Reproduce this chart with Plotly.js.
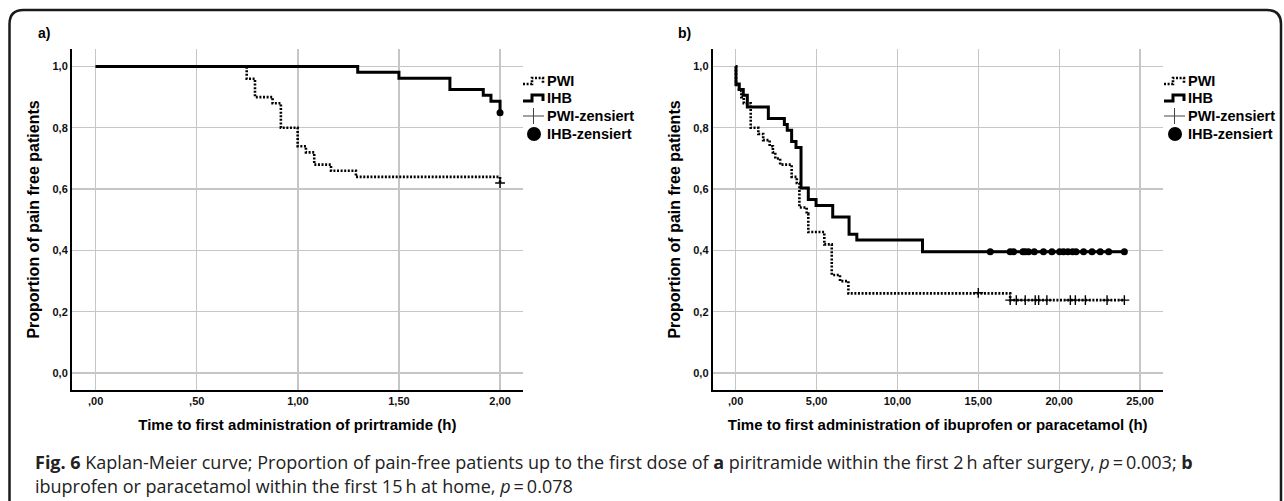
<!DOCTYPE html>
<html>
<head>
<meta charset="utf-8">
<script src="https://cdn.plot.ly/plotly-3.0.1.min.js"></script>
<style>
  html, body { margin: 0; padding: 0; background: #fff; }
  #chart { width: 1284px; height: 501px; }
</style>
</head>
<body>
<div id="chart"></div>
<script>
// ---------- Data ----------
// Panel a: time to first piritramide (h)
const aPwiTime   = [0, 0.747, 0.788, 0.875, 0.916, 0.999, 1.04, 1.081, 1.164, 1.287, 2.0];
const aPwiSurv   = [1.0, 0.96, 0.90, 0.88, 0.80, 0.74, 0.72, 0.68, 0.66, 0.64, 0.62];
const aIhbTime   = [0, 1.296, 1.5, 1.752, 1.917, 1.955, 2.0];
const aIhbSurv   = [1.0, 0.981, 0.962, 0.925, 0.906, 0.887, 0.849];
const aPwiCensT  = [2.0];
const aPwiCensS  = [0.62];
const aIhbCensT  = [2.0];
const aIhbCensS  = [0.849];

// Panel b: time to first ibuprofen / paracetamol (h)
const bPwiTime = [0, 0.02, 0.2, 0.35, 0.5, 0.93, 1.4, 1.7, 2.1, 2.3, 2.45, 2.75, 3.46, 3.78, 3.94, 4.39, 4.49, 5.48, 5.94, 6.45, 6.97, 16.97, 24.03];
const bPwiSurv = [1.0, 0.94, 0.92, 0.90, 0.88, 0.80, 0.78, 0.76, 0.74, 0.72, 0.70, 0.68, 0.64, 0.62, 0.54, 0.52, 0.46, 0.42, 0.32, 0.30, 0.26, 0.238, 0.238];
const bIhbTime = [0, 0.02, 0.22, 0.47, 0.72, 2.02, 3.01, 3.19, 3.46, 3.73, 4.04, 4.49, 4.97, 6.0, 7.01, 7.49, 11.55, 24.03];
const bIhbSurv = [1.0, 0.943, 0.925, 0.906, 0.868, 0.830, 0.811, 0.792, 0.755, 0.736, 0.604, 0.566, 0.547, 0.509, 0.453, 0.434, 0.396, 0.396];
const bPwiCensT = [15.0, 16.97, 17.35, 17.9, 18.52, 18.73, 19.24, 20.69, 21.0, 21.62, 22.96, 24.03];
const bPwiCensS = [0.262, 0.238, 0.238, 0.238, 0.238, 0.238, 0.238, 0.238, 0.238, 0.238, 0.238, 0.238];
const bIhbCensT = [15.74, 16.97, 17.18, 17.76, 17.9, 18.1, 18.46, 19.03, 19.55, 20.03, 20.27, 20.54, 20.83, 21.04, 21.51, 22.03, 22.54, 23.06, 24.03];
const bIhbCensS = [0.396, 0.396, 0.396, 0.396, 0.396, 0.396, 0.396, 0.396, 0.396, 0.396, 0.396, 0.396, 0.396, 0.396, 0.396, 0.396, 0.396, 0.396, 0.396];

// ---------- Tick labels / names ----------
const yTickVals = [0, 0.2, 0.4, 0.6, 0.8, 1.0];
const yTickText = ['0,0', '0,2', '0,4', '0,6', '0,8', '1,0'];
const aXTickVals = [0, 0.5, 1.0, 1.5, 2.0];
const aXTickText = [',00', ',50', '1,00', '1,50', '2,00'];
const bXTickVals = [0, 5, 10, 15, 20, 25];
const bXTickText = [',00', '5,00', '10,00', '15,00', '20,00', '25,00'];
const seriesNames = ['PWI', 'IHB', 'PWI-zensiert', 'IHB-zensiert'];

// ---------- Styling ----------
const FONT = 'Liberation Sans, Arial, sans-serif';
const W = 1284, H = 501;
const px = v => v / W;
const py = v => 1 - v / H;

const dotLine = { color: '#000', width: 2.6, dash: '2px,1.6px', shape: 'hv' };
const solidLine = { color: '#000', width: 3, shape: 'hv' };

function kmTraces(xa, ya, pT, pS, iT, iS, pcT, pcS, icT, icS) {
  return [
    { x: pT, y: pS, xaxis: xa, yaxis: ya, type: 'scatter', mode: 'lines',
      name: seriesNames[0], line: dotLine, showlegend: false },
    { x: iT, y: iS, xaxis: xa, yaxis: ya, type: 'scatter', mode: 'lines',
      name: seriesNames[1], line: solidLine, showlegend: false },
    { x: pcT, y: pcS, xaxis: xa, yaxis: ya, type: 'scatter', mode: 'markers',
      name: seriesNames[2], showlegend: false,
      marker: { symbol: 'cross-thin', size: 7, color: '#000', line: { color: '#000', width: 1.4 } } },
    { x: icT, y: icS, xaxis: xa, yaxis: ya, type: 'scatter', mode: 'markers',
      name: seriesNames[3], showlegend: false,
      marker: { symbol: 'circle', size: 7, color: '#000' } }
  ];
}

const data = [
  ...kmTraces('x', 'y', aPwiTime, aPwiSurv, aIhbTime, aIhbSurv, aPwiCensT, aPwiCensS, aIhbCensT, aIhbCensS),
  ...kmTraces('x2', 'y2', bPwiTime, bPwiSurv, bIhbTime, bIhbSurv, bPwiCensT, bPwiCensS, bIhbCensT, bIhbCensS)
];

const tickFont = { family: FONT, size: 11, color: '#111', weight: 700 };
const xTitleFont = { family: FONT, size: 15, color: '#000', weight: 700 };
const yTitleFont = { family: FONT, size: 16, color: '#000', weight: 700 };

function xAxis(domain, range, vals, text, title, anchor) {
  return {
    domain: domain, range: range, anchor: anchor,
    tickmode: 'array', tickvals: vals, ticktext: text, tickfont: tickFont,
    ticks: '', showgrid: true, gridcolor: '#c6c6c6', gridwidth: 1.3,
    zeroline: false, showline: true, linecolor: '#000', linewidth: 2,
    title: { text: title, font: xTitleFont, standoff: 13 }, automargin: false,
    fixedrange: true
  };
}
function yAxis(domain, anchor) {
  return {
    domain: domain, range: [-0.055, 1.057], anchor: anchor,
    tickmode: 'array', tickvals: yTickVals, ticktext: yTickText, tickfont: tickFont,
    ticks: '', showgrid: true, gridcolor: '#c6c6c6', gridwidth: 1.3,
    zeroline: false, showline: true, linecolor: '#000', linewidth: 2,
    title: { text: 'Proportion of pain free patients', font: yTitleFont, standoff: 9 }, automargin: false,
    fixedrange: true
  };
}

const yDom = [py(390), py(49)];

// Outer rounded frame
const x0 = 9.5, x1 = 1281, yt = 10, r = 14;
const framePath =
  `M ${px(x0)},-0.02 L ${px(x0)},${py(yt + r)} Q ${px(x0)},${py(yt)} ${px(x0 + r)},${py(yt)} ` +
  `L ${px(x1 - r)},${py(yt)} Q ${px(x1)},${py(yt)} ${px(x1)},${py(yt + r)} L ${px(x1)},-0.02`;

const shapes = [
  { type: 'path', xref: 'paper', yref: 'paper', path: framePath,
    line: { color: '#1a1a1a', width: 2.5 }, fillcolor: 'rgba(0,0,0,0)', layer: 'above' }
];
const legendFont = { family: FONT, size: 14.5, color: '#000', weight: 700 };
const annotations = [];

// Legend (drawn like the SPSS legend: step keys, plus and dot)
function addLegend(iconX, textX) {
  const rows = [81, 98, 116, 134];
  const step = (y) => `M ${px(iconX)},${py(y + 3)} L ${px(iconX + 9)},${py(y + 3)} L ${px(iconX + 9)},${py(y - 3)} L ${px(iconX + 20)},${py(y - 3)} L ${px(iconX + 20)},${py(y + 3)}`;
  shapes.push({ type: 'path', xref: 'paper', yref: 'paper', path: step(rows[0]),
                line: { color: '#000', width: 2.6, dash: '2px,1.6px' } });
  shapes.push({ type: 'path', xref: 'paper', yref: 'paper', path: step(rows[1]),
                line: { color: '#000', width: 3 } });
  shapes.push({ type: 'line', xref: 'paper', yref: 'paper',
                x0: px(iconX), x1: px(iconX + 21), y0: py(rows[2]), y1: py(rows[2]),
                line: { color: '#444', width: 1 } });
  shapes.push({ type: 'line', xref: 'paper', yref: 'paper',
                x0: px(iconX + 10.5), x1: px(iconX + 10.5), y0: py(rows[2] - 8), y1: py(rows[2] + 8),
                line: { color: '#444', width: 1 } });
  shapes.push({ type: 'circle', xref: 'paper', yref: 'paper',
                x0: px(iconX + 4), x1: px(iconX + 18), y0: py(rows[3] + 7), y1: py(rows[3] - 7),
                fillcolor: '#000', line: { color: '#000', width: 0 } });
  seriesNames.forEach((nm, i) => {
    annotations.push({ text: nm, xref: 'paper', yref: 'paper', x: px(textX), y: py(rows[i]),
      xanchor: 'left', yanchor: 'middle', showarrow: false, font: legendFont });
  });
}
addLegend(523, 545);
addLegend(1164, 1186);

const panelFont = { family: FONT, size: 14, color: '#000', weight: 700 };
annotations.push(
  { text: 'a)', xref: 'paper', yref: 'paper', x: px(36), y: py(33), xanchor: 'left', yanchor: 'middle',
    showarrow: false, font: panelFont },
  { text: 'b)', xref: 'paper', yref: 'paper', x: px(676), y: py(33), xanchor: 'left', yanchor: 'middle',
    showarrow: false, font: panelFont },
  { text: '<b>Fig. 6</b> Kaplan-Meier curve; Proportion of pain-free patients up to the first dose of <b>a</b> piritramide within the first 2\u2009h after surgery, <i>p</i>\u2009=\u20090.003; <b>b</b>',
    xref: 'paper', yref: 'paper', x: px(33), y: py(462), xanchor: 'left', yanchor: 'middle',
    showarrow: false, font: { family: 'Open Sans, sans-serif', size: 18, color: '#222' } },
  { text: 'ibuprofen or paracetamol within the first 15\u2009h at home, <i>p</i>\u2009=\u20090.078',
    xref: 'paper', yref: 'paper', x: px(33), y: py(486), xanchor: 'left', yanchor: 'middle',
    showarrow: false, font: { family: 'Open Sans, sans-serif', size: 18, color: '#222' } }
);

const layout = {
  width: W, height: H,
  margin: { l: 0, r: 0, t: 0, b: 0 },
  paper_bgcolor: '#fff', plot_bgcolor: '#fff',
  showlegend: false,
  xaxis: xAxis([px(72), px(522.7)], [-0.117, 2.112], aXTickVals, aXTickText,
               'Time to first administration of prirtramide (h)', 'y'),
  yaxis: yAxis(yDom, 'x'),
  xaxis2: xAxis([px(712.7), px(1162.7)], [-1.42, 26.4], bXTickVals, bXTickText,
                'Time to first administration of ibuprofen or paracetamol (h)', 'y2'),
  yaxis2: yAxis(yDom, 'x2'),
  shapes: shapes,
  annotations: annotations
};

Plotly.newPlot('chart', data, layout, { displayModeBar: false, staticPlot: true });
</script>
</body>
</html>
